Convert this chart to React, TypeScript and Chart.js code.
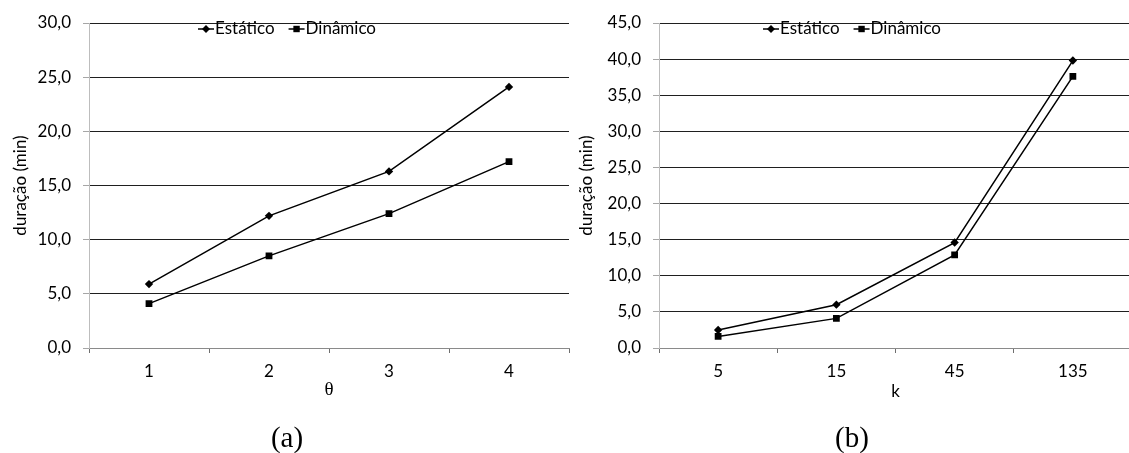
import React, { useEffect, useRef } from 'react';
import { Chart, registerables } from 'chart.js';

Chart.register(...registerables);

// ---- data ----
const thetaLabels = ['1', '2', '3', '4'];
const thetaEstatico = [5.9, 12.2, 16.3, 24.1];
const thetaDinamico = [4.1, 8.5, 12.4, 17.2];

const kLabels = ['5', '15', '45', '135'];
const kEstatico = [2.5, 6.0, 14.6, 39.8];
const kDinamico = [1.6, 4.1, 12.9, 37.6];

const seriesNames = ['Estático', 'Dinâmico'];
const yTitle = 'duração (min)';

const FONT = 'Lato';

const decorPlugin = {
  id: 'decor',
  afterDraw(chart: any, _args: any, opts: any) {
    const ctx = chart.ctx as CanvasRenderingContext2D;
    ctx.save();
    ctx.font = `17px ${FONT}`;
    ctx.textBaseline = 'middle';
    ctx.textAlign = 'left';
    const ds = chart.data.datasets;
    const lineLen = 16;
    const gapText = 1;
    const gapItem = 14;
    const widths = ds.map((d: any) => lineLen + gapText + ctx.measureText(d.label).width);
    const total = widths.reduce((a: number, b: number) => a + b, 0) + gapItem * (ds.length - 1);
    let x = opts.centerX - total / 2;
    const y = opts.legendY;
    ds.forEach((d: any, i: number) => {
      ctx.strokeStyle = '#000';
      ctx.lineWidth = 1.5;
      ctx.beginPath();
      ctx.moveTo(x, y);
      ctx.lineTo(x + lineLen, y);
      ctx.stroke();
      const cx = x + lineLen / 2;
      ctx.fillStyle = '#000';
      ctx.beginPath();
      if (d.pointStyle === 'rectRot') {
        const r = 4;
        ctx.moveTo(cx, y - r);
        ctx.lineTo(cx + r, y);
        ctx.lineTo(cx, y + r);
        ctx.lineTo(cx - r, y);
        ctx.closePath();
      } else {
        const s = 3.2;
        ctx.rect(cx - s, y - s, 2 * s, 2 * s);
      }
      ctx.fill();
      ctx.fillText(d.label, x + lineLen + gapText, y);
      x += widths[i] + gapItem;
    });
    // caption
    ctx.font = `29px "Liberation Serif"`;
    ctx.textAlign = 'center';
    ctx.textBaseline = 'alphabetic';
    ctx.fillText(opts.caption, opts.captionX, 447);
    ctx.restore();
  },
};

function fmt(v: number) {
  return v.toFixed(1).replace('.', ',');
}

function makeConfig(p: {
  labels: string[];
  est: number[];
  din: number[];
  max: number;
  yWidth: number;
  padRight: number;
  yTitlePad: number;
  xTitle: string;
  xTitleFont: string;
  xTitleSize: number;
  xTitlePad: number;
  centerX: number;
  caption: string;
}): any {
  return {
    type: 'line',
    data: {
      labels: p.labels,
      datasets: [
        {
          label: seriesNames[0],
          data: p.est,
          borderColor: '#000',
          backgroundColor: '#000',
          borderWidth: 1.5,
          pointStyle: 'rectRot',
          pointRadius: 4.2,
          pointBorderWidth: 0,
          tension: 0,
        },
        {
          label: seriesNames[1],
          data: p.din,
          borderColor: '#000',
          backgroundColor: '#000',
          borderWidth: 1.5,
          pointStyle: 'rect',
          pointRadius: 4.8,
          pointBorderWidth: 0,
          tension: 0,
        },
      ],
    },
    options: {
      responsive: false,
      animation: false,
      devicePixelRatio: 1,
      layout: { padding: { top: 23, right: p.padRight, left: 0, bottom: 0 } },
      plugins: {
        legend: { display: false },
        tooltip: { enabled: false },
        decor: { centerX: p.centerX, legendY: 29, caption: p.caption, captionX: p.centerX },
      },
      scales: {
        x: {
          type: 'category',
          offset: true,
          grid: {
            offset: true,
            drawOnChartArea: false,
            tickLength: 5,
            tickColor: '#6e6e6e',
          },
          border: { color: '#8a8a8a', width: 1 },
          ticks: {
            font: { family: FONT, size: 17 },
            color: '#000',
            padding: 8,
            maxRotation: 0,
          },
          title: {
            display: true,
            text: p.xTitle,
            font: { family: p.xTitleFont, size: p.xTitleSize },
            color: '#000',
            padding: { top: 0, bottom: p.xTitlePad },
          },
          afterFit: (scale: any) => {
            scale.height = 105;
          },
        },
        y: {
          min: 0,
          max: p.max,
          grid: {
            color: (c: any) => (c.tick && c.tick.value === 0 ? 'rgba(0,0,0,0)' : '#1f1f1f'),
            tickLength: 6,
            tickColor: '#a6a6a6',
          },
          border: { color: '#bdbdbd', width: 1 },
          ticks: {
            stepSize: 5,
            font: { family: FONT, size: 17 },
            color: '#000',
            padding: 12,
            callback: (v: any) => fmt(Number(v)),
          },
          title: {
            display: true,
            text: yTitle,
            font: { family: FONT, size: 17 },
            color: '#000',
            padding: { top: p.yTitlePad, bottom: 0 },
          },
          afterFit: (scale: any) => {
            scale.width = p.yWidth;
          },
        },
      },
    },
    plugins: [decorPlugin],
  };
}

function Panel({ left, width, config }: { left: number; width: number; config: any }) {
  const ref = useRef<HTMLCanvasElement>(null);
  useEffect(() => {
    const chart = new Chart(ref.current as HTMLCanvasElement, config);
    return () => chart.destroy();
  }, []);
  return (
    <div style={{ position: 'absolute', left, top: 0, width, height: 453 }}>
      <canvas ref={ref} width={width} height={453} style={{ display: 'block' }} />
    </div>
  );
}

export default function App() {
  const cfgA = makeConfig({
    labels: thetaLabels,
    est: thetaEstatico,
    din: thetaDinamico,
    max: 30,
    yWidth: 89,
    padRight: 6,
    yTitlePad: 10,
    xTitle: 'θ',
    xTitleFont: '"Liberation Serif"',
    xTitleSize: 19,
    xTitlePad: 52,
    centerX: 287,
    caption: '(a)',
  });
  const cfgB = makeConfig({
    labels: kLabels,
    est: kEstatico,
    din: kDinamico,
    max: 45,
    yWidth: 84,
    padRight: 8,
    yTitlePad: 1.5,
    xTitle: 'k',
    xTitleFont: FONT,
    xTitleSize: 17,
    xTitlePad: 51,
    centerX: 277,
    caption: '(b)',
  });
  return (
    <div
      style={{
        position: 'absolute',
        left: 0,
        top: 0,
        width: 1129,
        height: 453,
        overflow: 'hidden',
        background: '#fff',
      }}
    >
      <Panel left={0} width={575} config={cfgA} />
      <Panel left={575} width={565} config={cfgB} />
    </div>
  );
}
